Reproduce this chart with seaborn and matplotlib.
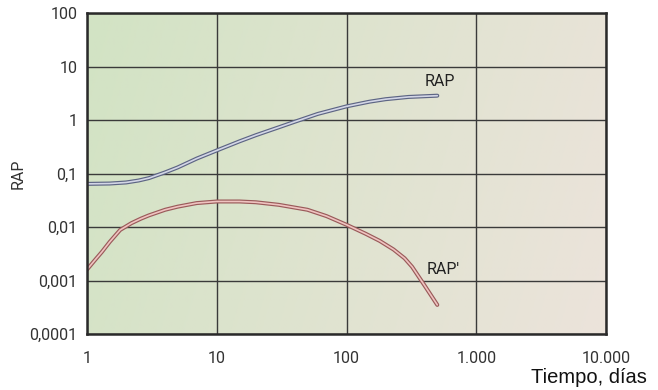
import numpy as np
import pandas as pd
import matplotlib
matplotlib.use('Agg')
import matplotlib.pyplot as plt
import seaborn as sns

# Data
rap_dias = [1, 1.5, 2, 2.5, 3, 4, 5, 7, 10, 15, 20, 30, 40, 60, 100, 150, 200, 300, 500]
rap_vals = [0.064, 0.065, 0.068, 0.074, 0.082, 0.105, 0.13, 0.19, 0.27, 0.40, 0.52, 0.73,
            0.93, 1.3, 1.8, 2.2, 2.45, 2.7, 2.85]

rap2_dias = [1, 1.15, 1.3, 1.5, 1.8, 2.2, 2.6, 3, 4, 5, 7, 10, 15, 20, 30, 50, 70, 100,
             140, 180, 230, 280, 320, 400, 500]
rap2_vals = [0.0016, 0.0024, 0.0034, 0.0053, 0.0088, 0.0118, 0.0143, 0.0165, 0.021, 0.024,
             0.028, 0.030, 0.030, 0.029, 0.026, 0.021, 0.016, 0.011, 0.0075, 0.0055,
             0.0038, 0.0026, 0.0018, 0.0008, 0.00035]

x_ticks = [1, 10, 100, 1000, 10000]
x_labels = ['1', '10', '100', '1.000', '10.000']
y_ticks = [0.0001, 0.001, 0.01, 0.1, 1, 10, 100]
y_labels = ['0,0001', '0,001', '0,01', '0,1', '1', '10', '100']

df_rap = pd.DataFrame({'dias': rap_dias, 'valor': rap_vals})
df_rap2 = pd.DataFrame({'dias': rap2_dias, 'valor': rap2_vals})

sns.set_style('white')
plt.rcParams['font.family'] = ['Roboto', 'DejaVu Sans']

fig = plt.figure(figsize=(6.58, 3.9), dpi=100)
ax = fig.add_axes([0.1322, 0.1436, 0.789, 0.823])

# background gradient green -> beige
nx, ny = 200, 50
gx = np.linspace(0, 1, nx)[None, :]
gy = np.linspace(0, 1, ny)[:, None]
t = np.clip(0.85 * gx + 0.15 * gy, 0, 1)
c0 = np.array([210, 227, 196]) / 255
c1 = np.array([236, 227, 219]) / 255
img = c0[None, None, :] * (1 - t[..., None]) + c1[None, None, :] * t[..., None]
ax.imshow(img, extent=[0, 1, 0, 1], transform=ax.transAxes, aspect='auto',
          origin='upper', zorder=0)

ax.set_xscale('log')
ax.set_yscale('log')
ax.set_xlim(1, 10000)
ax.set_ylim(0.0001, 100)

# outlined curves: dark thick line under a lighter thin one
sns.lineplot(data=df_rap, x='dias', y='valor', ax=ax, color='#5d6584', lw=2.9, zorder=3)
sns.lineplot(data=df_rap, x='dias', y='valor', ax=ax, color='#d3d6e6', lw=1.2, zorder=4)
sns.lineplot(data=df_rap2, x='dias', y='valor', ax=ax, color='#9a5a5a', lw=2.9, zorder=3)
sns.lineplot(data=df_rap2, x='dias', y='valor', ax=ax, color='#efc3c0', lw=1.2, zorder=4)

ax.set_xticks(x_ticks)
ax.set_xticklabels(x_labels)
ax.set_yticks(y_ticks)
ax.set_yticklabels(y_labels)
ax.minorticks_off()
ax.tick_params(axis='x', length=0, pad=12, labelsize=11.5, labelcolor='#333333')
ax.tick_params(axis='y', length=0, pad=7, labelsize=11.5, labelcolor='#333333')

ax.grid(True, which='major', color='#3a3a3a', lw=1.0, zorder=1)
ax.set_axisbelow(False)
for s in ax.spines.values():
    s.set_color('#2a2a2a')
    s.set_linewidth(1.8)
    s.set_zorder(5)

ax.set_xlabel('')
ax.set_ylabel('RAP', fontsize=11.5, color='#333333')
ax.yaxis.set_label_coords(-0.119, 0.5)

ax.text(520, 5.3, 'RAP', fontsize=11.5, color='#222222', ha='center', va='center', zorder=6)
ax.text(415, 0.0016, "RAP'", fontsize=11.5, color='#222222', ha='left', va='center', zorder=6)

fig.text(0.983, 0.018, 'Tiempo, días', fontsize=14.5, family=['Liberation Sans', 'DejaVu Sans'],
         ha='right', va='baseline', color='#111111')

fig.savefig('out.png', dpi=100, facecolor='white')
